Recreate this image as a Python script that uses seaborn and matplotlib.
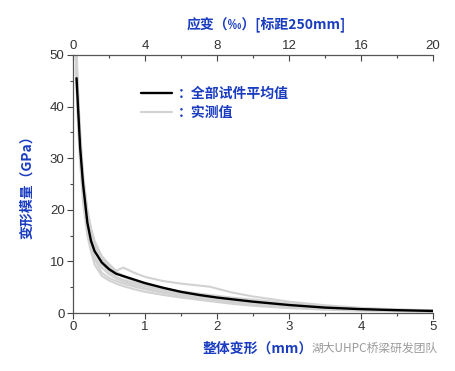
import numpy as np
import pandas as pd
import seaborn as sns
import matplotlib.pyplot as plt
from matplotlib.ticker import MultipleLocator, FixedLocator
from matplotlib.lines import Line2D

# average curve of all specimens
avg_x = [0.05, 0.07, 0.1, 0.14, 0.2, 0.25, 0.3, 0.4, 0.5, 0.6, 0.8, 1.0, 1.25,
         1.5, 1.75, 2.0, 2.5, 3.0, 3.5, 4.0, 4.5, 5.0]
avg_y = [45.5, 40, 32, 25, 17.5, 14, 12, 9.8, 8.5, 7.6, 6.7, 5.8, 4.9,
         4.1, 3.5, 3.0, 2.2, 1.55, 1.05, 0.75, 0.55, 0.4]

# measured curves (shared deformation grid)
test_x = [0.04, 0.06, 0.08, 0.1, 0.14, 0.2, 0.25, 0.3, 0.4, 0.5, 0.6, 0.7, 0.85,
          1.0, 1.25, 1.5, 1.9, 2.2, 2.5, 3.0, 3.5, 4.0, 4.5, 5.0]
test_1 = [56, 47, 40, 34, 26, 19, 15.5, 13, 10.5, 9.0, 8.0, 7.2, 6.4,
          5.7, 4.8, 4.0, 3.0, 2.5, 2.1, 1.5, 1.0, 0.7, 0.5, 0.35]
test_2 = [47, 41, 35, 30, 23, 16.5, 13, 10.5, 7.8, 6.8, 6.2, 5.7, 5.1,
          4.6, 3.9, 3.3, 2.5, 2.0, 1.6, 1.1, 0.8, 0.55, 0.4, 0.3]
test_3 = [52, 44, 38, 33, 26, 19.5, 16, 13.5, 11, 9.5, 8.2, 8.8, 7.8,
          7.0, 6.2, 5.7, 5.1, 4.0, 3.2, 2.2, 1.5, 1.0, 0.7, 0.5]
test_4 = [50, 43, 37, 32, 25, 18, 14.5, 12, 9.5, 8.0, 7.0, 6.4, 5.8,
          5.2, 4.4, 3.8, 3.0, 2.6, 2.2, 1.7, 1.2, 0.85, 0.6, 0.45]
test_5 = [48, 40, 34, 29, 21.5, 15, 12, 9.4, 7.2, 6.3, 5.7, 5.2, 4.6,
          4.1, 3.5, 3.0, 2.3, 1.8, 1.4, 0.95, 0.65, 0.45, 0.35, 0.25]
test_6 = [54, 46, 40, 35, 27, 20, 16.5, 14, 11, 9.2, 7.8, 7.0, 6.2,
          5.5, 4.7, 4.2, 3.5, 3.0, 2.6, 1.9, 1.3, 0.9, 0.65, 0.5]
test_7 = [51, 44, 38, 32, 24, 17, 13.5, 11, 8.8, 7.5, 6.7, 6.1, 5.4,
          4.8, 4.1, 3.5, 2.7, 2.3, 1.9, 1.35, 0.95, 0.65, 0.45, 0.35]
tests = [test_1, test_2, test_3, test_4, test_5, test_6, test_7]

strain_ticks = [0, 4, 8, 12, 16, 20]
strain_minor = [2, 6, 10, 14, 18]

blue = "#1a3cc0"
cjk = ["Noto Sans CJK SC", "DejaVu Sans"]

sns.set_style("white")
plt.rcParams["font.family"] = ["Liberation Sans", "DejaVu Sans"]

df = pd.DataFrame({
    "x": np.tile(test_x, len(tests)),
    "y": np.concatenate(tests),
    "spec": np.repeat(np.arange(len(tests)), len(test_x)),
})
avg = pd.DataFrame({"x": avg_x, "y": avg_y})

fig = plt.figure(figsize=(4.56, 3.71), dpi=100)
ax = fig.add_axes([0.160, 0.1563, 0.7896, 0.6955])

sns.lineplot(data=df, x="x", y="y", units="spec", estimator=None, sort=False,
             color="#d2d2d2", lw=1.5, ax=ax)
sns.lineplot(data=avg, x="x", y="y", sort=False, color="black", lw=1.7, ax=ax)

ax.set_xlim(0, 5)
ax.set_ylim(0, 50)
ax.xaxis.set_major_locator(MultipleLocator(1))
ax.xaxis.set_minor_locator(MultipleLocator(0.5))
ax.yaxis.set_major_locator(MultipleLocator(10))
ax.yaxis.set_minor_locator(MultipleLocator(5))
ax.tick_params(which="both", direction="out", colors="#444", labelcolor="#333",
               labelsize=9.5, width=0.8, pad=2)
ax.tick_params(which="major", length=4)
ax.tick_params(which="minor", length=2.5)
ax.tick_params(axis="y", which="both", left=True)
ax.tick_params(axis="x", which="both", bottom=True)
ax.spines["right"].set_visible(False)
for s in ["left", "bottom", "top"]:
    ax.spines[s].set_color("#555")
    ax.spines[s].set_linewidth(0.9)
ax.set_xlabel("")
ax.set_ylabel("")

top = ax.secondary_xaxis("top", functions=(lambda v: v * 4, lambda v: v / 4))
top.xaxis.set_major_locator(FixedLocator(strain_ticks))
top.xaxis.set_minor_locator(FixedLocator(strain_minor))
top.tick_params(which="both", direction="in", colors="#444", labelcolor="#333",
                labelsize=9.5, width=0.8, pad=2)
top.tick_params(which="major", length=4)
top.tick_params(which="minor", length=2.5)
top.spines["top"].set_visible(False)

fig.text(0.583, 0.935, "应变（‰）[标距250mm]", color=blue, fontsize=10,
         fontweight="bold", family=cjk, ha="center", va="center")
fig.text(0.06, 0.505, "变形模量（GPa）", color=blue, fontsize=10,
         fontweight="bold", family=cjk, ha="center", va="center", rotation=90)
fig.text(0.565, 0.06, "整体变形（mm）", color=blue, fontsize=10,
         fontweight="bold", family=cjk, ha="center", va="center")
fig.text(0.96, 0.06, "湖大UHPC桥梁研发团队", color="#9a9a9a", fontsize=8.5,
         family=cjk, ha="right", va="center")

handles = [Line2D([], [], color="black", lw=1.7),
           Line2D([], [], color="#d2d2d2", lw=1.5)]
leg = ax.legend(handles, ["：全部试件平均值", "：实测值"], loc="upper left",
                bbox_to_anchor=(0.155, 0.925), frameon=False, handlelength=2.2,
                handletextpad=0.4, labelspacing=0.35,
                prop={"family": cjk, "weight": "bold", "size": 10})
for t in leg.get_texts():
    t.set_color(blue)

fig.savefig("out.png", dpi=100)
